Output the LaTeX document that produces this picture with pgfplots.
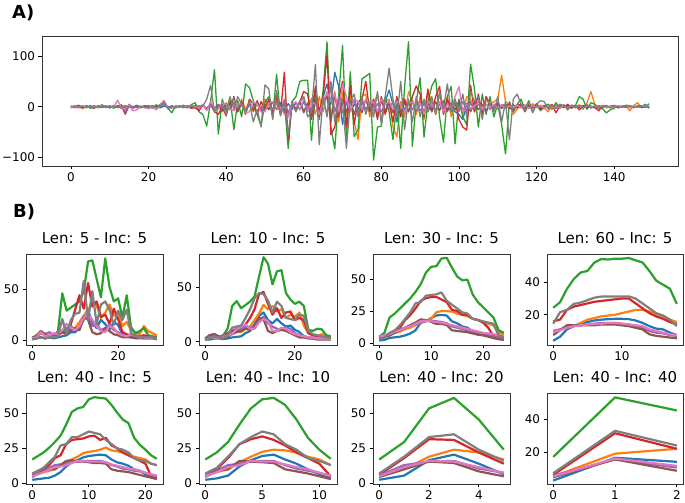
\documentclass[border=0pt]{standalone}
\usepackage{fontspec}
\setmainfont{DejaVu Sans}
\usepackage{pgfplots}
\usepackage{pgfplotstable}
\pgfplotsset{compat=1.18}
\definecolor{c0}{RGB}{31,119,180}
\definecolor{c1}{RGB}{255,127,14}
\definecolor{c2}{RGB}{44,160,44}
\definecolor{c3}{RGB}{214,39,40}
\definecolor{c4}{RGB}{148,103,189}
\definecolor{c5}{RGB}{140,86,75}
\definecolor{c6}{RGB}{227,119,194}
\definecolor{c7}{RGB}{127,127,127}
\pgfplotsset{
 base/.style={scale only axis, anchor=south west,
  axis line style={black!80, line width=0.8bp},
  tick align=outside, tick pos=left, major tick length=3.5bp,
  every tick/.style={black, line width=0.8bp},
  ticklabel style={font=\fontsize{12}{12}\selectfont},
  title style={font=\fontsize{15}{15}\selectfont, at={(0.5,1)}, anchor=base, yshift=4.5bp, inner sep=0pt}},
 panel/.style={base, height=91bp}
}
\newcommand{\plotall}[2]{%
\addplot[c0, line width=#2, line join=round] table[x=x,y=b] {#1};
\addplot[c1, line width=#2, line join=round] table[x=x,y=o] {#1};
\addplot[c2, line width=#2, line join=round] table[x=x,y=g] {#1};
\addplot[c3, line width=#2, line join=round] table[x=x,y=r] {#1};
\addplot[c4, line width=#2, line join=round] table[x=x,y=pu] {#1};
\addplot[c5, line width=#2, line join=round] table[x=x,y=br] {#1};
\addplot[c6, line width=#2, line join=round] table[x=x,y=pk] {#1};
\addplot[c7, line width=#2, line join=round] table[x=x,y=gy] {#1};
}
\pgfplotstableread{
x b o g r pu br pk gy
0 -1 0 -2 1 -1 0 -2 1
1 1 -2 1 0 2 -1 1 -1
2 0 1 3 -2 1 2 -1 0
3 -2 -4 -1 1 -1 -2 2 1
4 1 2 2 -1 0 1 -1 -2
5 -1 -1 -3 2 1 -1 0 1
6 2 1 1 -1 -2 -3 1 -1
7 -1 -2 -2 1 1 2 -1 0
8 1 0 4 -1 -1 -1 2 1
9 0 2 -1 0 1 1 -2 -1
10 -2 -1 2 1 -1 -2 1 0
11 1 1 -3 -1 2 1 -1 1
12 -1 0 1 2 -2 -1 13 -1
13 2 -2 3 -3 4 3 -2 0
14 -2 1 -4 -6 -12 -15 -5 2
15 1 2 2 3 5 2 3 -1
16 -1 -1 -1 -2 -3 -1 -8 1
17 0 1 3 1 2 2 -6 -2
18 1 -2 -2 -1 -1 -1 1 1
19 -1 1 1 2 0 1 -2 -1
20 2 -1 2 -1 -3 -2 -4 0
21 -1 2 -3 1 2 1 -1 1
22 1 -1 4 -2 -1 -1 -6 -2
23 -2 3 -2 4 1 3 3 2
24 1 6 5 10 5 12 12 8
25 0 -3 -3 -4 -2 -3 -2 -3
26 -1 1 -12 1 1 2 -3 1
27 1 -2 2 -1 -2 -1 1 -1
28 -1 1 -1 2 1 1 -2 1
29 0 -1 3 -1 -1 -2 1 0
30 1 2 -2 1 2 1 -1 -2
31 -1 -1 4 -3 -1 -1 2 1
32 2 3 8 -2 1 2 1 -1
33 -1 -2 -10 -8 -2 -3 -3 2
34 3 2 -15 3 4 2 5 1
35 -4 -3 -38 -5 -6 -4 -8 15
36 5 5 10 5 3 6 10 42
37 -3 -5 73 -10 -8 -5 -3 -10
38 4 3 -54 -15 5 3 -5 0
39 -5 -10 15 0 -4 -8 8 5
40 3 8 -8 -18 6 4 5 -15
41 -2 -5 18 10 -5 -6 -4 20
42 6 10 -45 5 8 20 -8 -5
43 -4 -8 12 -10 -6 -10 6 20
44 5 15 -20 10 4 8 5 5
45 -6 -5 45 -15 -10 -12 -12 -10
46 4 10 38 15 8 6 -10 10
47 -3 -10 12 5 -5 -8 10 -30
48 5 5 -15 -15 10 12 5 -5
49 -4 -8 -38 10 -6 -10 -10 -40
50 15 15 8 -5 -8 5 -10 43
51 5 -5 20 15 6 -6 8 35
52 8 10 -22 -10 -5 10 10 -25
53 -5 5 64 20 10 -5 -3 32
54 3 -10 -18 -15 -8 8 0 -15
55 -8 15 12 68 12 -10 -15 10
56 6 -15 -82 -65 -12 -20 -20 -55
57 -5 5 10 10 8 5 5 5
58 8 -5 20 -5 -6 -8 10 -10
59 -6 10 50 10 10 10 -5 10
60 10 20 52 30 -8 -12 15 20
61 -5 -10 52 25 6 8 -10 -20
62 15 15 -66 -20 -10 -25 10 -10
63 25 -15 30 40 12 15 5 83
64 -10 20 -25 -10 -15 -20 -15 -75
65 20 -10 32 20 10 10 10 20
66 45 25 128 102 -15 20 30 -20
67 5 -20 -40 -55 50 -30 10 45
68 68 30 -83 -40 -10 25 25 -30
69 40 -30 20 15 15 -20 -10 20
70 -35 28 121 50 -12 15 45 10
71 10 -15 -60 -40 10 -10 20 -82
72 -10 20 69 40 -8 12 -10 10
73 5 -30 -59 -35 12 -15 15 25
74 -5 -65 -45 10 -10 10 10 -20
75 10 20 55 15 8 -12 -5 20
76 -5 25 60 50 -6 15 15 -15
77 5 -20 66 -10 10 -10 5 10
78 0 5 -105 15 -8 8 10 -20
79 -10 25 -40 -25 6 -15 -10 30
80 15 -25 -38 20 -10 12 15 -35
81 10 10 20 -15 8 -8 5 20
82 33 15 -10 10 -5 10 10 76
83 5 -40 -65 -30 10 -12 -5 15
84 -30 -59 10 20 -8 15 10 -20
85 10 10 -82 -20 6 -10 5 50
86 -5 -20 40 15 -10 8 -10 -45
87 5 30 128 -10 10 -10 5 15
88 10 10 -78 20 -6 12 10 -30
89 -10 -15 10 41 8 -8 -5 20
90 5 20 57 25 -8 10 8 -20
91 10 -25 -60 -20 6 -12 -15 15
92 -5 30 10 35 -10 8 10 -10
93 8 10 41 -10 8 -10 5 20
94 -10 -15 55 20 -6 10 -8 -15
95 5 25 -20 40 10 -8 10 30
96 10 -10 -70 -15 -8 12 -10 -5
97 -5 20 20 15 6 -10 5 45
98 5 -20 40 -5 -10 8 -5 -10
99 -10 10 -73 10 8 -6 20 15
100 -15 5 15 -25 -6 10 40 -10
101 -25 -15 -20 -40 10 -8 -10 25
102 5 20 -35 -46 -8 6 5 -20
103 10 15 84 42 6 -10 -3 30
104 -5 -10 35 -10 -5 8 2 10
105 5 10 -40 25 8 -6 8 20
106 -3 -5 25 -15 -6 5 -5 -25
107 5 15 -15 20 5 -8 4 15
108 -5 5 20 5 -4 6 -3 5
109 3 10 -20 -5 5 -5 5 -10
110 -4 15 5 8 -3 4 -2 20
111 2 62 -35 -3 4 -3 3 -30
112 5 10 -93 2 -3 5 -4 10
113 -3 5 10 5 2 -4 2 -65
114 4 -15 -10 -8 -3 3 -2 15
115 -2 -5 5 3 2 -2 3 25
116 2 5 15 5 -2 3 -2 5
117 -3 3 -5 -10 3 -3 2 -8
118 2 -4 12 4 -2 2 -3 10
119 -2 6 -10 -2 2 -2 2 -12
120 1 -2 5 6 -1 3 -1 5
121 -2 3 -8 -5 2 -2 2 12
122 2 -3 2 -3 -2 2 -3 10
123 -1 -10 5 2 1 -1 2 -5
124 2 2 -5 4 -2 3 -2 3
125 -2 4 8 -12 2 -2 1 -3
126 1 -2 -3 3 -1 2 -2 5
127 -1 3 4 -2 2 -1 1 2
128 2 -3 -6 5 -2 1 -2 -4
129 -1 2 3 -3 1 -2 2 3
130 1 -2 2 2 -1 2 -1 -2
131 -1 4 20 -6 2 -1 1 2
132 2 -5 15 1 -1 2 -2 -3
133 -1 8 -5 3 1 -2 2 4
134 1 30 8 -2 -2 1 -1 -2
135 -2 5 5 -1 1 -1 2 1
136 1 -3 -2 -8 -1 2 -1 -3
137 -1 2 -4 2 2 -1 1 2
138 2 -2 -12 -1 -1 1 -2 1
139 -1 0 -6 1 1 -2 1 -2
140 1 3 -3 2 -1 1 -1 2
141 -1 -2 2 -2 1 -1 2 0
142 1 1 0 0 -1 1 -1 -1
143 -1 2 3 1 1 -1 1 1
144 1 -8 2 -1 -1 2 -2 2
145 -1 2 -2 0 1 -1 1 -1
146 1 8 1 1 -1 1 -1 0
147 -1 -2 0 2 1 -1 1 1
148 5 1 -1 -1 -1 1 2 -1
149 -3 0 6 0 1 -1 0 0
}\topdata
\pgfplotstableread{
x b o g r pu br pk gy
0 2 3 1 2 3 2 2 1
1 2 4 2 3 4 5 3 2
2 3 7 3 8 9 9 8 3
3 2 5 2 5 6 6 4 2
4 3 4 3 3 8 3 5 3
5 2 4 4 4 5 4 7 3
6 3 6 9 5 8 6 6 4
7 4 8 46 8 9 9 10 21
8 5 7 29 6 12 7 16 6
9 8 10 32 16 14 10 12 20
10 8 12 35 30 10 12 10 26
11 12 18 38 44 12 10 14 27
12 20 24 48 31 24 23 22 58
13 29 30 77 56 22 20 26 20
14 18 36 78 33 14 8 20 48
15 12 34 60 38 16 6 14 16
16 20 22 42 23 10 7 9 35
17 16 27 80 25 12 12 8 38
18 10 35 52 16 15 9 14 30
19 18 24 38 31 10 6 12 15
20 15 28 41 21 8 5 7 29
21 6 14 22 8 5 3 5 20
22 4 18 44 6 4 3 4 30
23 3 10 13 5 4 3 6 7
24 3 8 7 3 3 2 5 5
25 3 6 9 4 3 2 3 4
26 2 14 12 5 3 2 3 3
27 2 9 5 4 3 2 2 3
28 2 7 4 3 2 2 2 3
29 2 5 3 2 2 1 2 2
}\rA
\pgfplotstableread{
x b o g r pu br pk gy
0 2 3 2 2 3 3 2 2
1 2 5 3 6 6 6 4 4
2 3 7 4 7 5 7 4 5
3 3 4 4 5 4 5 3 4
4 2.5 4 6 4 6 3 4 3
5 3 5 12 8 5 5 6 6
6 4 8 33 10 8 7 7 13
7 4.5 9 37.5 12 10 9 12 14
8 5 9 31 10 12 10 14 15
9 8 12 34 16 14 12 16 22
10 10 14 37 22 13 11 12 30
11 16 20 42 30 14 13 12 40
12 24 26 60 44 20 22 18 45
13 27 34 78 46 23 21 21 44
14 20 30 72 35 17 10 19 38
15 17 33 53 25 14 8 10 27
16 21 28 65 31 12 10 10 37
17 17 30 66 22 11 11 13 33
18 14 22 45 27 13 10 12 22
19 15 25 39 28 12 8 9 21
20 11 23 35 20 8 6 7 20
21 9 27 37 22 6 4 6 25
22 5 15 33 20 5 4 5 24
23 4 8 11 8 4 3 4 10
24 3 6 10 6 4 3 4 7
25 3 5 12 5 3 2 3 6
26 3 7 11.5 4 3 2 3 5
27 2.5 6 6 4 3 2 3 4
28 2 4 5 3 3 2 2 3
}\rB
\pgfplotstableread{
x b o g r pu br pk gy
0 2 4 5 3 5 4 5 3
1 2.5 5 8 5 6 5 6 4
2 4 7 20 6 7.5 6 7 8
3 4.5 8 23 9 9 8 9 10
4 5 9 27 12 10.5 10 10 14
5 6 11 31 18 12 12 12 19
6 7.5 12 35 22 13.5 14 13 24
7 10 14 40 27 15 16 15 31
8 16 16 46 33 16 18.5 17 32
9 17 17 55 35 17.5 18 17.5 37
10 19.5 19 59.5 36 17.5 16.5 17 37.5
11 21.5 24 60 36 17 15 16.5 38
12 22 25 66 34 16.5 15 16 39.5
13 21.5 25 66.5 32 15.5 14 15 33
14 17 24.5 59 26 13 10 14 30
15 15.5 23 52 25 12 9.5 13 27
16 13 22 49 22 11 9 12 24
17 12 21 49.5 22 10 8.5 11 23
18 9 19 38 19 9 7.5 10 19
19 8 18 32 18 8 6.5 9 18
20 7 16.5 28 16 7 6 8 17
21 5.5 15 24 12 6.5 5 7.5 16
22 4 14 20 5.5 5 4 7 15
23 3.5 8 10 5 4 3 6 6
24 3 7 8 4 3.5 2.5 5 5
}\rC
\pgfplotstableread{
x b o g r pu br pk gy
0 4 10 24.3 16 10 7.5 9.5 14.5
1 6.5 11 27.7 17 11 10.5 10.5 21.6
2 11 12 35.9 23 12.5 13.5 12 23
3 13 13 42 25 13 13.5 13 26.7
4 14.5 15 46 26 13.5 13.5 13.5 27.5
5 15.5 17 47 27 14 13.5 14 29
6 16.5 18 52.2 28 14.5 13.5 14.3 30.5
7 17 19 54.3 28.5 15 14 14.5 31.2
8 17.3 19.5 54 29 15 14 15 31.3
9 17.5 20 54.5 29.5 15 14 15 31.3
10 17.5 21 54.5 30 14.5 13.5 14.5 31.3
11 17.3 22 54.9 30 14 13 14 31.3
12 16.5 23 53.5 27 13 12 13.5 30
13 15 23 52.2 24 12 11 13 27
14 13 22 47 21 10 8 11 24
15 11.5 20.5 41 19 9 7 10 21
16 11 19 38.5 17.5 8.5 6.5 9 19.5
17 9 17 36 15.5 7.5 6 8 17
18 7.5 15.5 26.7 14 7 5.5 7.5 13
}\rD
\pgfplotstableread{
x b o g r pu br pk gy
0 2.5 5 17 6 5.5 4.5 5 7
1 3 6.5 19.5 7 7 7 6.5 9
2 3.5 8 22 10 9 9 8 11
3 4 9 25.5 13 11 10 10 15
4 5.5 10 29.5 18 13 10 11.5 19
5 8 13 34 20 13.5 13 12 27
6 12 15 42 28 14 16 13 28
7 15 17 51 31 15 16.5 14.5 33
8 16.5 19 53.5 31.5 15.5 15.5 16 33
9 18.5 21.5 54.5 32 16 15.5 16 35
10 19.5 22.5 60 33.5 16 15 15.5 37
11 20 23 61.5 34 16 14.5 15.5 36
12 20.5 24 61 31 16 14.5 15.5 35
13 20 25.5 60.5 32.5 15 14 15 31
14 17 23.5 56 27 13 10 13.5 28
15 15 23 50.5 25 12 9 12.5 25
16 14 22 45.5 22 10.5 8.5 11.5 24
17 12.5 20 43 20 10 8 10.5 22
18 10 19 32.5 18 9 7 10 18
19 9 18 27.5 16 8.5 6 9 16.5
20 6.5 17 24 14 7.5 5 7.5 16
21 5 14 20 5 6 4 6.5 14
22 3.5 13 17.5 5 5 3 5.5 13
}\sA
\pgfplotstableread{
x b o g r pu br pk gy
0 2.5 5 17 6 5.5 4.5 5 7
1 3.5 8 22 10 9 9 8 11
2 5.5 10 29.5 18 13 10 11.5 19
3 12 15 42 28 14 16 13 28
4 16.5 19 53.5 31.5 15.5 15.5 16 33
5 19.5 22.5 60 33.5 16 15 15.5 37
6 20.5 24 61 31 16 14.5 15.5 35
7 17 23.5 56 27 13 10 13.5 28
8 14 22 45.5 22 10.5 8.5 11.5 24
9 10 19 32.5 18 9 7 10 18
10 6.5 17 24 14 7.5 5 7.5 16
11 3.5 13 17.5 5 5 3 5.5 13
}\sB
\pgfplotstableread{
x b o g r pu br pk gy
0 2.5 5 17 6 5.5 4.5 5 7
1 5.5 10 29.5 18 13 10 11.5 19
2 16.5 19 53.5 31.5 15.5 15.5 16 33
3 20.5 24 61 31 16 14.5 15.5 35
4 14 22 45.5 22 10.5 8.5 11.5 24
5 6.5 17 24 14 7.5 5 7.5 16
}\sC
\pgfplotstableread{
x b o g r pu br pk gy
0 2.5 5 17 6 5.5 4.5 5 7
1 16.5 19 53.5 31.5 15.5 15.5 16 33
2 14 22 45.5 22 10.5 8.5 11.5 24
}\sD
\begin{document}
\begin{tikzpicture}
\useasboundingbox (0,0) rectangle (685bp,503bp);
\node[anchor=base west, inner sep=0pt, font=\fontsize{18}{18}\selectfont\bfseries] at (12bp,484.7bp) {A)};
\node[anchor=base west, inner sep=0pt, font=\fontsize{18}{18}\selectfont\bfseries] at (13bp,285bp) {B)};
\begin{axis}[base, at={(42bp,337bp)}, width=636bp, height=130bp,
  xmin=-7.45, xmax=156.45, ymin=-116.7, ymax=139.4,
  xtick={0,20,40,60,80,100,120,140}, xticklabels={0,20,40,60,80,100,120,140},
  ytick={-100,0,100}, yticklabels={−100,0,100}]
\plotall{\topdata}{1.3bp}
\end{axis}
\begin{axis}[panel, at={(26bp,158bp)}, width=137bp, xmin=-1.45, xmax=30.45, ymin=-4.5, ymax=84.3,
  xtick={0,20}, xticklabels={0,20}, ytick={0,50}, yticklabels={0,50}, title={Len: 5 - Inc: 5}]
\plotall{\rA}{2.2bp}
\end{axis}
\begin{axis}[panel, at={(199bp,158bp)}, width=138bp, xmin=-1.4, xmax=29.4, ymin=-3, ymax=81,
  xtick={0,20}, xticklabels={0,20}, ytick={0,50}, yticklabels={0,50}, title={Len: 10 - Inc: 5}]
\plotall{\rB}{2.2bp}
\end{axis}
\begin{axis}[panel, at={(373bp,158bp)}, width=137bp, xmin=-1.2, xmax=25.2, ymin=-1.5, ymax=69.5,
  xtick={0,10,20}, xticklabels={0,10,20}, ytick={0,25,50}, yticklabels={0,25,50}, title={Len: 30 - Inc: 5}]
\plotall{\rC}{2.2bp}
\end{axis}
\begin{axis}[panel, at={(547bp,158bp)}, width=136bp, xmin=-0.9, xmax=18.9, ymin=1.4, ymax=57.4,
  xtick={0,10}, xticklabels={0,10}, ytick={20,40}, yticklabels={20,40}, title={Len: 60 - Inc: 5}]
\plotall{\rD}{2.2bp}
\end{axis}
\begin{axis}[panel, at={(26bp,19bp)}, width=137bp, xmin=-1.1, xmax=23.1, ymin=-0.5, ymax=64.5,
  xtick={0,10,20}, xticklabels={0,10,20}, ytick={0,25,50}, yticklabels={0,25,50}, title={Len: 40 - Inc: 5}]
\plotall{\sA}{2.2bp}
\end{axis}
\begin{axis}[panel, at={(199bp,19bp)}, width=138bp, xmin=-0.55, xmax=11.55, ymin=-0.5, ymax=64.5,
  xtick={0,5,10}, xticklabels={0,5,10}, ytick={0,25,50}, yticklabels={0,25,50}, title={Len: 40 - Inc: 10}]
\plotall{\sB}{2.2bp}
\end{axis}
\begin{axis}[panel, at={(373bp,19bp)}, width=137bp, xmin=-0.25, xmax=5.25, ymin=-0.5, ymax=64.5,
  xtick={0,2,4}, xticklabels={0,2,4}, ytick={0,25,50}, yticklabels={0,25,50}, title={Len: 40 - Inc: 20}]
\plotall{\sC}{2.2bp}
\end{axis}
\begin{axis}[panel, at={(547bp,19bp)}, width=136bp, xmin=-0.1, xmax=2.1, ymin=0.4, ymax=56.2,
  xtick={0,1,2}, xticklabels={0,1,2}, ytick={20,40}, yticklabels={20,40}, title={Len: 40 - Inc: 40}]
\plotall{\sD}{2.2bp}
\end{axis}
\end{tikzpicture}
\end{document}
